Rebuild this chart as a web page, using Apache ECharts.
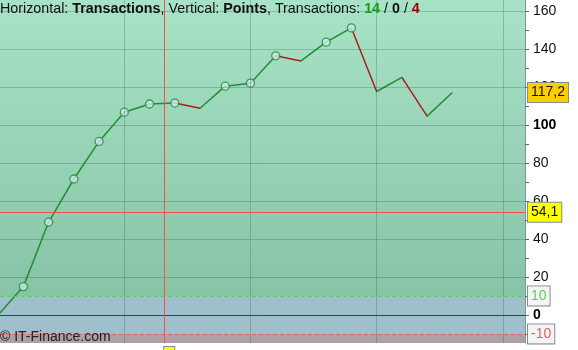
<!DOCTYPE html>
<html><head><meta charset="utf-8">
<script src="https://cdn.jsdelivr.net/npm/echarts@6/dist/echarts.min.js"></script>
<style>html,body{margin:0;padding:0;background:#fff}#c{width:578px;height:350px}</style>
</head><body><div id="c"></div>
<script>
// ---- data ----
const transactions = [0,1,2,3,4,5,6,7,8,9,10,11,12,13,14,15,16,17,18];
const points = [0,14.9,48.9,71.6,91.4,106.8,111.1,111.6,108.9,120.5,122.1,136.5,133.8,143.7,151.2,117.7,125.1,104.7,117.2];
const yLabelValues = [0,20,40,60,80,100,120,140,160];
const yTickValues = [-10,0,10,20,30,40,50,60,70,80,90,100,110,120,130,140,150,160];
const yGridValues = [20,40,60,80,100,120,140,160];
const xGridValues = [5,10,15,20];
const crossX = 6.585;
const crossY = 54.1;
const lastValue = 117.2;
const upperLimit = 10;
const lowerLimit = -10;
const winners = 14, flats = 0, losers = 4;
const X_MIN = 0.073, X_MAX = 20.88, Y_MIN = -14.8, Y_MAX = 165.9;

const FONT = '"Liberation Sans", Arial, sans-serif';
const GREEN = '#1f8f2f', RED = '#b01a1a';
const TS = 14.3;

const lineData = transactions.map((t, i) => [t, points[i]]);
const redPieces = [];
for (let i = 0; i < points.length - 1; i++) {
  if (points[i + 1] < points[i]) redPieces.push({ gt: transactions[i], lte: transactions[i + 1], color: RED });
}
const highs = [];
let runMax = -Infinity;
points.forEach((v, i) => { if (i > 0 && v > runMax) highs.push([transactions[i], v]); runMax = Math.max(runMax, v); });

const boxLabel = (text, color, bg) => ({
  show: true, position: 'end', distance: 3, formatter: text,
  color: color, fontSize: 14, fontFamily: FONT,
  backgroundColor: bg, borderColor: '#7f8f8f', borderWidth: 1, padding: [3, 3, 2, 3]
});

const chart = echarts.init(document.getElementById('c'), null, { renderer: 'canvas' });
chart.setOption({
  animation: false,
  title: [{
    left: 0, top: 2, padding: 0,
    text: 'Horizontal: {b|Transactions}, Vertical: {b|Points}, Transactions: {g|' + winners + '} / {k|' + flats + '} / {r|' + losers + '}',
    textStyle: {
      fontSize: TS, fontWeight: 'normal', color: '#111', fontFamily: FONT,
      rich: {
        b: { fontSize: TS, fontWeight: 'bold', color: '#111', fontFamily: FONT },
        g: { fontSize: TS, fontWeight: 'bold', color: '#1a9a1a', fontFamily: FONT },
        k: { fontSize: TS, fontWeight: 'bold', color: '#111', fontFamily: FONT },
        r: { fontSize: TS, fontWeight: 'bold', color: '#990000', fontFamily: FONT }
      }
    }
  }, {
    left: 0, bottom: 6, padding: 0, text: '© IT-Finance.com',
    textStyle: { fontSize: 14, fontWeight: 'normal', color: '#222', fontFamily: FONT }
  }],
  grid: { left: 0, right: 53, top: 0, bottom: 7, show: false },
  xAxis: {
    type: 'value', min: X_MIN, max: X_MAX,
    axisLine: { show: false }, axisLabel: { show: false }, splitLine: { show: false },
    axisTick: { show: true, customValues: xGridValues, length: 6, lineStyle: { color: '#7d8c88' } }
  },
  yAxis: {
    type: 'value', position: 'right', min: Y_MIN, max: Y_MAX,
    splitLine: { show: false },
    axisLine: { show: true, lineStyle: { color: '#7d9a90' } },
    axisTick: { show: true, length: 4, customValues: yTickValues, lineStyle: { color: '#666' } },
    axisLabel: {
      customValues: yLabelValues, fontSize: 14, color: '#111', margin: 8, fontFamily: FONT,
      formatter: v => (v === 0 || v === 100) ? '{b|' + v + '}' : String(v),
      rich: { b: { fontWeight: 'bold', fontSize: 14, color: '#000', fontFamily: FONT } }
    }
  },
  visualMap: {
    type: 'piecewise', show: false, dimension: 0, seriesIndex: 1,
    pieces: redPieces, outOfRange: { color: GREEN }
  },
  series: [
    {
      name: 'bg', type: 'line', data: [], z: 0, silent: true,
      markArea: {
        silent: true,
        data: [
          [{ yAxis: upperLimit, itemStyle: { color: new echarts.graphic.LinearGradient(0, 0, 0, 1, [{ offset: 0, color: '#a8e3c8' }, { offset: 1, color: '#87c3a7' }]) } }, { yAxis: Y_MAX }],
          [{ yAxis: lowerLimit, itemStyle: { color: '#a0bfcc' } }, { yAxis: upperLimit }],
          [{ yAxis: Y_MIN, itemStyle: { color: '#ae9fa8' } }, { yAxis: lowerLimit }]
        ]
      },
      markLine: {
        silent: true, symbol: 'none', label: { show: false },
        lineStyle: { color: 'rgba(40,90,70,0.28)', width: 1, type: 'solid' },
        data: yGridValues.map(v => ({ yAxis: v })).concat(xGridValues.map(v => ({ xAxis: v })))
      }
    },
    {
      name: 'equity', type: 'line', data: lineData, showSymbol: false, z: 3,
      lineStyle: { width: 1.5 },
      markLine: {
        silent: true, symbol: 'none',
        data: [
          { yAxis: 0, lineStyle: { color: '#2233bb', width: 1, type: 'solid' }, label: { show: false } },
          { yAxis: upperLimit, lineStyle: { color: '#4fd84f', width: 1, type: [4, 3] }, label: boxLabel(String(upperLimit), '#55d455', '#f4f4f4') },
          { yAxis: lowerLimit, lineStyle: { color: '#e86060', width: 1, type: [4, 3] }, label: boxLabel(String(lowerLimit), '#e06060', '#f4f4f4') },
          { yAxis: crossY, lineStyle: { color: '#ff4d4d', width: 1, type: 'solid' }, label: boxLabel(String(crossY).replace('.', ','), '#111', '#ffff00') },
          { yAxis: lastValue, lineStyle: { color: 'rgba(0,0,0,0)', width: 0 }, label: boxLabel(String(lastValue).replace('.', ','), '#111', '#fdcf00') },
          { xAxis: crossX, lineStyle: { color: '#ff4d4d', width: 1, type: 'solid' },
            label: { show: true, position: 'start', distance: 4, formatter: ' ', align: 'left', width: 8, height: 6, fontSize: 8,
                     backgroundColor: '#ffff00', borderColor: '#7f8f8f', borderWidth: 1, padding: [1, 1, 1, 1] } }
        ]
      }
    },
    {
      name: 'highs', type: 'scatter', data: highs, symbol: 'circle', symbolSize: 8, z: 4,
      itemStyle: { color: '#cfe5f0', borderColor: '#1d8a2d', borderWidth: 1.3 }
    }
  ]
});
</script>
</body></html>
